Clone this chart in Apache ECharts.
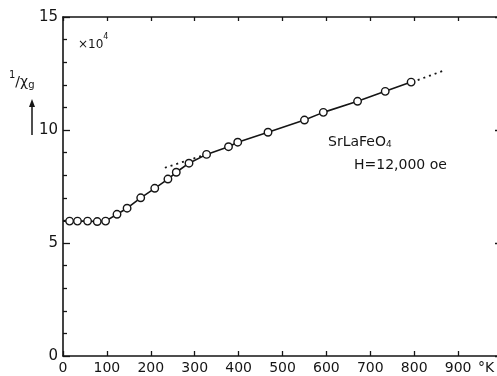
<!DOCTYPE html>
<html>
<head>
<meta charset="utf-8">
<script src="https://cdn.jsdelivr.net/npm/echarts@6/dist/echarts.min.js"></script>
<style>
html,body{margin:0;padding:0;background:#fff;}
#chart{width:497px;height:376px;}
</style>
</head>
<body>
<div id="chart"></div>
<script>
// Temperature (°K) and 1/chi_g (x10^4)
const temps = [15, 33, 56, 78, 97, 123, 146, 177, 209, 239, 258, 287, 327, 377, 398, 467, 550, 593, 671, 734, 793];
const chiInv = [5.97, 5.97, 5.97, 5.95, 5.97, 6.27, 6.54, 7.0, 7.42, 7.83, 8.13, 8.53, 8.92, 9.26, 9.46, 9.90, 10.44, 10.78, 11.27, 11.71, 12.12];
// Start of the solid curve at the axis
const curveStartT = [0];
const curveStartV = [5.97];
// Dotted extrapolations of the high-temperature line
const extHighT = [808, 872];
const extHighV = [12.21, 12.66];
const extLowT = [232, 320];
const extLowV = [8.33, 8.88];
// Tick labels
const xTicks = ['0','100','200','300','400','500','600','700','800','900'];
const yTicks = ['0','5','10','15'];

const FONT = 'DejaVu Sans';
const INK = '#151515';

const pts = temps.map((t, i) => [t, chiInv[i]]);
const curve = curveStartT.map((t, i) => [t, curveStartV[i]]).concat(pts);
const hi = extHighT.map((t, i) => [t, extHighV[i]]);
const lo = extLowT.map((t, i) => [t, extLowV[i]]);

const chart = echarts.init(document.getElementById('chart'), null, {renderer: 'canvas'});
chart.setOption({
  backgroundColor: '#fff',
  animation: false,
  grid: {left: 63, right: -5, top: 17, bottom: 20, containLabel: false, outerBoundsMode: 'none'},
  xAxis: [{
    type: 'value', min: 0, max: 1000, interval: 100, position: 'bottom',
    axisLine: {show: true, onZero: false, lineStyle: {color: INK, width: 1.6}},
    axisTick: {show: true, inside: true, length: 5, lineStyle: {color: INK, width: 1.3}},
    splitLine: {show: false},
    axisLabel: {
      show: true, margin: 5, color: INK, fontFamily: FONT, fontSize: 14,
      formatter: function (v) { const i = Math.round(v / 100); return i < xTicks.length ? xTicks[i] : ''; }
    }
  }, {
    type: 'value', min: 0, max: 1000, interval: 100, position: 'top',
    axisLine: {show: true, onZero: false, lineStyle: {color: INK, width: 1.6}},
    axisTick: {show: true, inside: true, length: 4, lineStyle: {color: INK, width: 1.3}},
    splitLine: {show: false},
    axisLabel: {show: false}
  }],
  yAxis: [{
    type: 'value', min: 0, max: 15, interval: 5, position: 'left',
    axisLine: {show: true, onZero: false, lineStyle: {color: INK, width: 1.6}},
    axisTick: {show: true, inside: true, length: 7, lineStyle: {color: INK, width: 1.3}},
    minorTick: {show: true, splitNumber: 5, length: 4, lineStyle: {color: INK, width: 1.3}},
    splitLine: {show: false},
    axisLabel: {
      show: true, margin: 5, color: INK, fontFamily: FONT, fontSize: 15,
      formatter: function (v) { return yTicks[Math.round(v / 5)]; }
    }
  }, {
    type: 'value', min: 0, max: 15, interval: 5, position: 'right',
    axisLine: {show: true, onZero: false, lineStyle: {color: INK, width: 1.6}},
    axisTick: {show: true, inside: true, length: 7, lineStyle: {color: INK, width: 1.3}},
    splitLine: {show: false},
    axisLabel: {show: false}
  }],
  series: [{
    type: 'line', data: curve, symbol: 'none', z: 2,
    lineStyle: {color: INK, width: 1.6}
  }, {
    type: 'line', data: hi, symbol: 'none', z: 2,
    lineStyle: {color: INK, width: 1.8, type: [2, 4]}
  }, {
    type: 'line', data: lo, symbol: 'none', z: 2,
    lineStyle: {color: INK, width: 1.8, type: [2, 4]}
  }, {
    type: 'scatter', data: pts, symbol: 'circle', symbolSize: 7.5, z: 3,
    itemStyle: {color: '#fff', borderColor: INK, borderWidth: 1.4, opacity: 1}
  }],
  graphic: [{
    type: 'text', left: 78, top: 33,
    style: {
      text: '{n|×10}{s|4}', fill: INK,
      rich: {
        n: {fontFamily: FONT, fontSize: 12, fill: INK, verticalAlign: 'bottom', padding: [6, 0, 0, 0]},
        s: {fontFamily: FONT, fontSize: 8, fill: INK, verticalAlign: 'top'}
      }
    }
  }, {
    type: 'text', left: 9, top: 70,
    style: {
      text: '{s|1}{n|/χ}{g|g}', fill: INK,
      rich: {
        s: {fontFamily: FONT, fontSize: 10, fill: INK, verticalAlign: 'top'},
        n: {fontFamily: FONT, fontSize: 14, fill: INK, padding: [4, 0, 0, 0]},
        g: {fontFamily: FONT, fontSize: 10, fill: INK, padding: [10, 0, 0, 0]}
      }
    }
  }, {
    type: 'line', shape: {x1: 32, y1: 103, x2: 32, y2: 135},
    style: {stroke: INK, lineWidth: 1.5}
  }, {
    type: 'polygon', shape: {points: [[32, 99], [29, 107], [35, 107]]},
    style: {fill: INK}
  }, {
    type: 'text', left: 478, top: 361,
    style: {text: '°K', fill: INK, font: '14px "DejaVu Sans"'}
  }, {
    type: 'text', left: 328, top: 135,
    style: {
      text: '{n|SrLaFeO}{s|4}', fill: INK,
      rich: {
        n: {fontFamily: FONT, fontSize: 14, fill: INK},
        s: {fontFamily: FONT, fontSize: 9, fill: INK, padding: [5, 0, 0, 0]}
      }
    }
  }, {
    type: 'text', left: 354, top: 158,
    style: {text: 'H=12,000 oe', fill: INK, font: '14px "DejaVu Sans"'}
  }]
});
</script>
</body>
</html>
